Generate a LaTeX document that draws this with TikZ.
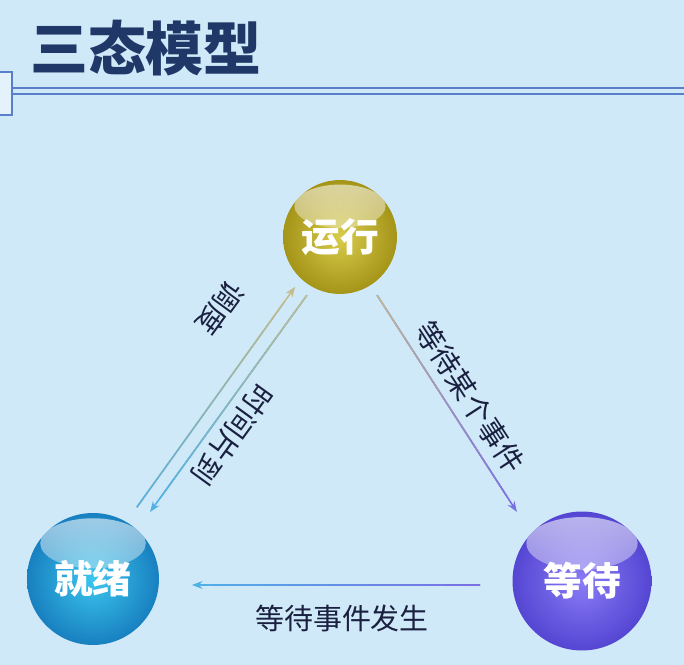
\documentclass[tikz,border=0pt]{standalone}
\usepackage{fontspec}
\newfontfamily\cjk{Noto Sans CJK SC}
\usetikzlibrary{arrows.meta,calc,fadings}
\definecolor{bgblue}{RGB}{208,233,248}
\definecolor{titleblue}{RGB}{32,56,104}
\definecolor{hdrblue}{RGB}{88,126,204}
\definecolor{txtdark}{RGB}{26,32,64}
\definecolor{runlight}{RGB}{216,204,76}
\definecolor{rundark}{RGB}{164,148,24}
\definecolor{readylight}{RGB}{60,198,238}
\definecolor{readydark}{RGB}{24,128,192}
\definecolor{waitlight}{RGB}{138,124,246}
\definecolor{waitdark}{RGB}{84,70,210}
\definecolor{arrtan}{RGB}{196,188,138}
\definecolor{arrblue}{RGB}{80,176,232}
\definecolor{arrpurple}{RGB}{122,110,228}

% arrow whose colour runs from #3 at (#1) to #4 at (#2)
\newcommand\gradarrow[4]{%
  \draw[-{Stealth[length=6pt,width=4.5pt]}, line width=0.9pt, #4] (#1) -- (#2);
  \foreach \i in {1,...,14} {
    \pgfmathsetmacro\p{100*(\i-0.5)/15}
    \draw[line width=0.9pt, #4!\p!#3] ($(#1)!{(\i-1)/15}!(#2)$) -- ($(#1)!{\i/15}!(#2)$);
  }
}

\begin{document}
\begin{tikzpicture}[x=0.02cm, y=-0.02cm,
    state/.style = {circle, minimum size=#1, inner sep=0pt, text=white,
      font=\cjk\bfseries\fontsize{22}{22}\selectfont,
      path picture={\fill[white, opacity=0.6, path fading=south]
        let \p1=(path picture bounding box.north), \p2=(path picture bounding box.center), \n1={\y1-\y2}
        in ($(\p2)!0.54!(\p1)$) ellipse [x radius=0.8*\n1, y radius=0.38*\n1];}},
    lbl/.style = {text=txtdark, inner sep=1pt, font=\cjk\fontsize{16.5}{18}\selectfont},
    hdr/.style = {hdrblue, line width=1.1pt}]
  \useasboundingbox (0,0) rectangle (684,665);
  \fill[bgblue] (0,0) rectangle (684,665);

  % title bar
  \node[font=\cjk\bfseries\fontsize{33}{33}\selectfont, text=titleblue] (title) at (146,48) {三态模型};
  \draw[hdr] (12,88) -- (684,88);
  \draw[hdr] (12,94) -- (684,94);
  \draw[hdr, fill=bgblue!60!white] (-2,72) rectangle (12,115);

  % states
  \node[state=2.28cm, inner color=runlight, outer color=rundark] (run) at (340,237) {运行};
  \node[state=2.64cm, inner color=readylight, outer color=readydark] (ready) at (93,579) {就绪};
  \node[state=2.78cm, inner color=waitlight, outer color=waitdark] (wait) at (582,581) {等待};

  % transitions
  \coordinate (sched s) at ($(ready.center)+(58.6:1.68cm)$);
  \coordinate (sched e) at ($(run.center)+(228:1.34cm)$);
  \coordinate (tout s) at ($(run.center)+(240.4:1.34cm)$);
  \coordinate (tout e) at ($(ready.center)+(49.6:1.76cm)$);
  \coordinate (block s) at ($(run.center)+(302.5:1.38cm)$);
  \coordinate (block e) at ($(wait.center)+(133.3:1.90cm)$);
  \coordinate (wake s) at ($(wait.center)+(-2.04cm,-0.08cm)$);
  \coordinate (wake e) at ($(ready.center)+(1.98cm,-0.12cm)$);
  \gradarrow{sched s}{sched e}{arrblue}{arrtan}
  \gradarrow{tout s}{tout e}{arrtan}{arrblue}
  \gradarrow{block s}{block e}{arrtan}{arrpurple}
  \gradarrow{wake s}{wake e}{arrpurple}{arrblue}

  % labels
  \node[lbl, rotate=234] (sched) at (220,308) {调度};
  \node[lbl, rotate=234] (tout) at (232,435) {时间片到};
  \node[lbl, rotate=-57] (block) at (470,397) {等待某个事件};
  \node[lbl] (wake) at (342,618) {等待事件发生};
\end{tikzpicture}
\end{document}
